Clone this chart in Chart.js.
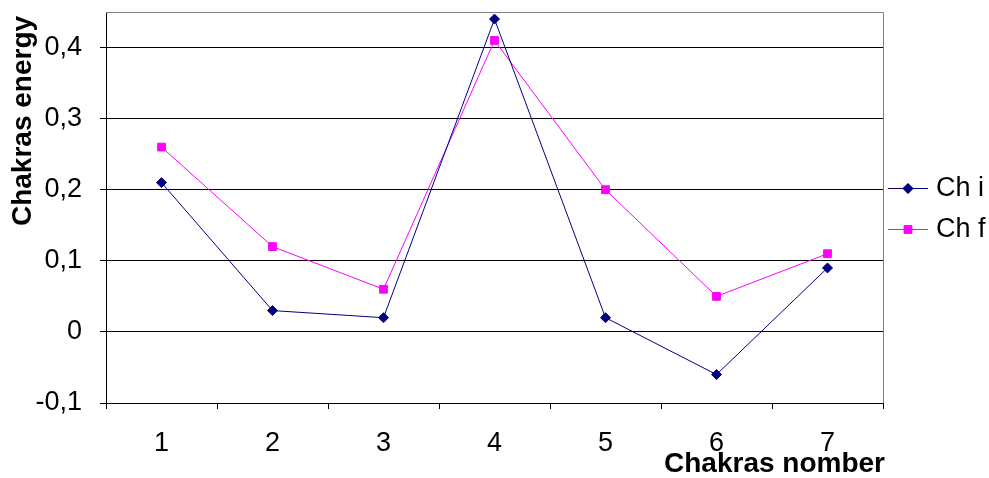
<!DOCTYPE html>
<html>
<head>
<meta charset="utf-8">
<script src="https://cdn.jsdelivr.net/npm/chart.js@4/dist/chart.umd.min.js"></script>
<style>
html,body{margin:0;padding:0;background:#fff;}
#wrap{width:989px;height:478px;position:relative;}
</style>
</head>
<body>
<div id="wrap"><canvas id="c" width="989" height="478"></canvas></div>
<script>
const categories = ['1','2','3','4','5','6','7'];
const chI = [0.21, 0.03, 0.02, 0.44, 0.02, -0.06, 0.09];
const chF = [0.26, 0.12, 0.06, 0.41, 0.20, 0.05, 0.11];
const seriesNames = ['Ch i', 'Ch f'];
const yTitle = 'Chakras energy';
const xTitle = 'Chakras nomber';

const FONT = '"Liberation Sans", Arial, sans-serif';
const NAVY = '#000080';
const MAG = '#FF00FF';

const decor = {
  id: 'decor',
  beforeDatasetsDraw(chart) {
    const {ctx, chartArea: a} = chart;
    ctx.save();
    ctx.strokeStyle = '#808080';
    ctx.lineWidth = 1;
    ctx.beginPath();
    ctx.moveTo(a.left, a.top + 0.5);
    ctx.lineTo(a.right + 0.5, a.top + 0.5);
    ctx.lineTo(a.right + 0.5, a.bottom);
    ctx.stroke();
    ctx.restore();
  },
  afterDraw(chart) {
    const {ctx, chartArea: a} = chart;
    ctx.save();
    ctx.fillStyle = '#000';
    ctx.font = 'bold 28px ' + FONT;
    ctx.translate(23, 121);
    ctx.rotate(-Math.PI / 2);
    ctx.textAlign = 'center';
    ctx.textBaseline = 'middle';
    ctx.fillText(yTitle, 0, 0);
    ctx.restore();
    ctx.save();
    ctx.fillStyle = '#000';
    ctx.font = 'bold 28px ' + FONT;
    ctx.textAlign = 'right';
    ctx.textBaseline = 'alphabetic';
    ctx.fillText(xTitle, a.right + 2, 472);
    ctx.restore();
    const items = [
      {name: seriesNames[0], color: NAVY, style: 'rectRot', r: 5, y: 188},
      {name: seriesNames[1], color: MAG, style: 'rect', r: 5.5, y: 229}
    ];
    ctx.save();
    items.forEach(it => {
      ctx.strokeStyle = it.color;
      ctx.lineWidth = 1;
      ctx.beginPath();
      ctx.moveTo(888, it.y + 0.5);
      ctx.lineTo(928, it.y + 0.5);
      ctx.stroke();
      ctx.fillStyle = it.color;
      Chart.helpers.drawPoint(ctx, {pointStyle: it.style, radius: it.r, borderWidth: 1, rotation: 0}, 908, it.y + 0.5);
      ctx.fill();
      ctx.fillStyle = '#000';
      ctx.font = '27px ' + FONT;
      ctx.textAlign = 'left';
      ctx.textBaseline = 'middle';
      ctx.fillText(it.name, 936, it.y + 1);
    });
    ctx.restore();
  }
};

new Chart(document.getElementById('c'), {
  type: 'line',
  data: {
    labels: categories,
    datasets: [
      {label: seriesNames[0], data: chI, borderColor: NAVY, backgroundColor: NAVY,
       borderWidth: 1, pointStyle: 'rectRot', pointRadius: 5, pointBorderWidth: 1, tension: 0},
      {label: seriesNames[1], data: chF, borderColor: MAG, backgroundColor: MAG,
       borderWidth: 1, pointStyle: 'rect', pointRadius: 5.5, pointBorderWidth: 1, tension: 0}
    ]
  },
  options: {
    responsive: false,
    animation: false,
    devicePixelRatio: 1,
    layout: {padding: {top: 12, right: 106, left: 0, bottom: 0}},
    plugins: {legend: {display: false}, tooltip: {enabled: false}},
    scales: {
      x: {
        offset: true,
        grid: {offset: true, drawOnChartArea: false, drawTicks: true, tickLength: 6, color: '#000'},
        border: {display: true, color: '#000', width: 1},
        ticks: {font: {family: FONT, size: 27}, color: '#000', padding: 18, maxRotation: 0},
        afterFit(s) { s.height = 75; s.paddingLeft = 0; s.paddingRight = 0; }
      },
      y: {
        min: -0.1,
        max: 0.45,
        grid: {color: '#000', lineWidth: 1, tickLength: 6, drawTicks: true},
        border: {display: true, color: '#000', width: 1},
        ticks: {
          stepSize: 0.1,
          includeBounds: false,
          font: {family: FONT, size: 27},
          color: '#000',
          padding: 18,
          callback: v => {
            const r = Math.round(v * 10) / 10;
            return r === 0 ? '0' : String(r).replace('.', ',');
          }
        },
        afterFit(s) { s.width = 106; s.paddingTop = 0; s.paddingBottom = 0; }
      }
    }
  },
  plugins: [decor]
});
</script>
</body>
</html>
